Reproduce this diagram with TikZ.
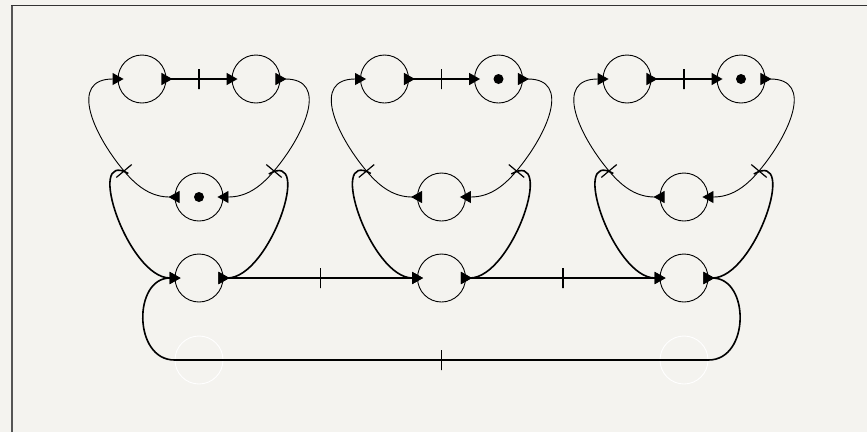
\documentclass[tikz,border=0pt]{standalone}
\usetikzlibrary{arrows.meta}
\definecolor{paper}{HTML}{F4F3EF}
\definecolor{frameline}{HTML}{555555}

\tikzset{
  pin/.tip={Triangle[length=11pt,width=12pt]},
  pout/.tip={Triangle[reversed,length=11pt,width=12pt]},
  place/.style={draw, circle, minimum size=48pt, inner sep=0pt, line width=0.9pt},
  ghost/.style={place, draw=white},
  trans/.style={draw, rectangle, minimum width=0pt, minimum height=20pt, inner sep=0pt, line width=1.2pt},
  token/.style={fill, circle, inner sep=0pt, minimum size=10pt},
  arc/.style={line width=0.9pt, shorten >=-6pt, shorten <=-5pt},
  looparc/.style={arc, line width=1.6pt}
}

\begin{document}
\begin{tikzpicture}[x=1pt, y=1pt]
  \useasboundingbox (0,0) rectangle (867,-432);
  \fill[paper] (0,0) rectangle (867,-432);
  \draw[frameline, line width=2pt] (12,-432) -- (12,-5.5);
  \draw[black!80, line width=1pt] (11,-5.5) -- (867,-5.5);

  % three rings
  \foreach \g/\x in {1/199, 2/441.5, 3/684} {
    \node[place] (a\g) at (\x-57,-79) {};
    \node[place] (b\g) at (\x+57,-79) {};
    \node[place] (c\g) at (\x,-197) {};
    \node[place] (d\g) at (\x,-278) {};
    \node[trans] (s\g) at (\x,-79) {};
    \node[trans, rotate=-50] (l\g) at (\x-75,-171) {};
    \node[trans, rotate=50] (r\g) at (\x+75,-171) {};
    \draw[looparc, pout-pin] (a\g.east) -- (s\g.center) -- (b\g.west);
    \draw[arc, pout-pin] (b\g.east) to[out=0, in=50, looseness=1.35] (r\g.center) to[out=230, in=0] (c\g.east);
    \draw[arc, pout-pin] (c\g.west) to[out=180, in=-50] (l\g.center) to[out=130, in=180, looseness=1.35] (a\g.west);
    \draw[looparc, -pin] (l\g.center) to[out=150, in=180] (d\g.west);
    \draw[looparc, pout-] (d\g.east) to[out=0, in=30] (r\g.center);
  }

  % tokens
  \node[token] (m1) at (c1.center) {};
  \node[token] (m2) at (b2.center) {};
  \node[token] (m3) at (b3.center) {};

  % bottom chain
  \node[trans] (u1) at (320.5,-278) {};
  \node[trans] (u2) at (563,-278) {};
  \node[ghost] (g1) at (199,-360) {};
  \node[ghost] (g2) at (684,-360) {};
  \node[trans] (u3) at (441.5,-360) {};
  \draw[looparc, pout-pin] (d1.east) -- (u1.center) -- (d2.west);
  \draw[looparc, pout-pin] (d2.east) -- (u2.center) -- (d3.west);
  \draw[looparc, pout-pin] (d3.east) to[out=0, in=0, looseness=1.3] (g2.east) -- (u3.center) -- (g1.west) to[out=180, in=180, looseness=1.3] (d1.west);
\end{tikzpicture}
\end{document}
